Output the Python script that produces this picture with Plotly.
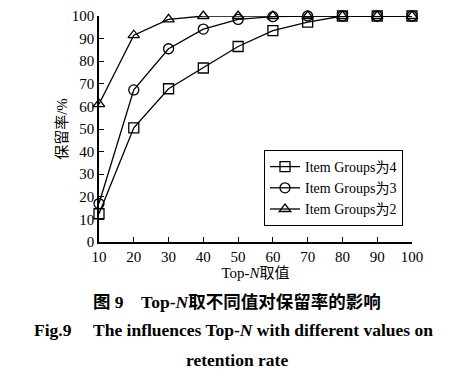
import plotly.graph_objects as go

top_n = [10, 20, 30, 40, 50, 60, 70, 80, 90, 100]
groups4 = [12.5, 50.5, 67.8, 77.0, 86.5, 93.5, 97.3, 100, 100, 100]
groups3 = [17.0, 67.3, 85.5, 94.2, 98.5, 99.7, 100, 100, 100, 100]
groups2 = [61.0, 91.5, 98.5, 100, 100, 100, 100, 100, 100, 100]
series_names = ["Item Groups为4", "Item Groups为3", "Item Groups为2"]
symbols = ["square-open", "circle-open", "triangle-up-open"]
x_ticks = [10, 20, 30, 40, 50, 60, 70, 80, 90, 100]
y_ticks = [0, 10, 20, 30, 40, 50, 60, 70, 80, 90, 100]

SERIF = "Liberation Serif, Times New Roman, Noto Sans CJK SC, serif"

fig = go.Figure()
for name, ys, sym in zip(series_names, [groups4, groups3, groups2], symbols):
    fig.add_trace(go.Scatter(
        x=top_n, y=ys, name=name, mode="lines+markers",
        line=dict(color="black", width=1.3),
        marker=dict(symbol=sym, size=10, color="black", line=dict(color="black", width=1.3)),
        cliponaxis=False,
    ))

# page has an 8px body margin; work in page pixel coords then convert
OFF = 8
W, H = 464 - OFF, 382 - OFF
PL, PR, PT, PB = 99, 412, 16, 242  # desired plot area in page pixels
L, T = PL - OFF, PT - OFF
R = W - (PR - OFF)
B = H - (PB - OFF)
pw = PR - PL
ph = PB - PT

def py(pix):
    return (PB - pix) / ph

def px(pix):
    return (pix - PL) / pw

fig.update_layout(
    width=W, height=H,
    margin=dict(l=L, r=R, t=T, b=B, autoexpand=False),
    paper_bgcolor="white", plot_bgcolor="white",
    font=dict(family=SERIF, size=15, color="black"),
    showlegend=True,
    legend=dict(
        x=px(264), y=py(150), xanchor="left", yanchor="top",
        bordercolor="black", borderwidth=1, bgcolor="white",
        font=dict(family=SERIF, size=14, color="black"),
        tracegroupgap=0, itemwidth=30,
    ),
    xaxis=dict(
        range=[10, 100], tickvals=x_ticks, ticks="inside", ticklen=5,
        tickcolor="black", tickwidth=1.2, showline=True, linecolor="black", linewidth=1.5,
        showgrid=False, zeroline=False, tickfont=dict(size=15), automargin=False,
        title=dict(text="Top-<i>N</i>取值", font=dict(size=15), standoff=4),
    ),
    yaxis=dict(
        range=[0, 100], tickvals=y_ticks, ticks="inside", ticklen=5,
        tickcolor="black", tickwidth=1.2, showline=True, linecolor="black", linewidth=1.5,
        showgrid=False, zeroline=False, tickfont=dict(size=15), automargin=False,
        title=dict(text="保留率/%", font=dict(size=15), standoff=1),
    ),
    annotations=[
        dict(text="<b>图 9　Top-<i>N</i>取不同值对保留率的影响</b>", x=px(237), xref="paper",
             y=py(302), yref="paper", xanchor="center", yanchor="middle",
             showarrow=False, font=dict(family=SERIF, size=17.5)),
        dict(text="<b>Fig.9　 The influences Top-<i>N</i> with different values on</b>", x=px(233), xref="paper",
             y=py(330), yref="paper", xanchor="center", yanchor="middle",
             showarrow=False, font=dict(family=SERIF, size=17.5)),
        dict(text="<b>retention rate</b>", x=px(237), xref="paper",
             y=py(360), yref="paper", xanchor="center", yanchor="middle",
             showarrow=False, font=dict(family=SERIF, size=17.5)),
    ],
)

fig.write_html("out.html")
